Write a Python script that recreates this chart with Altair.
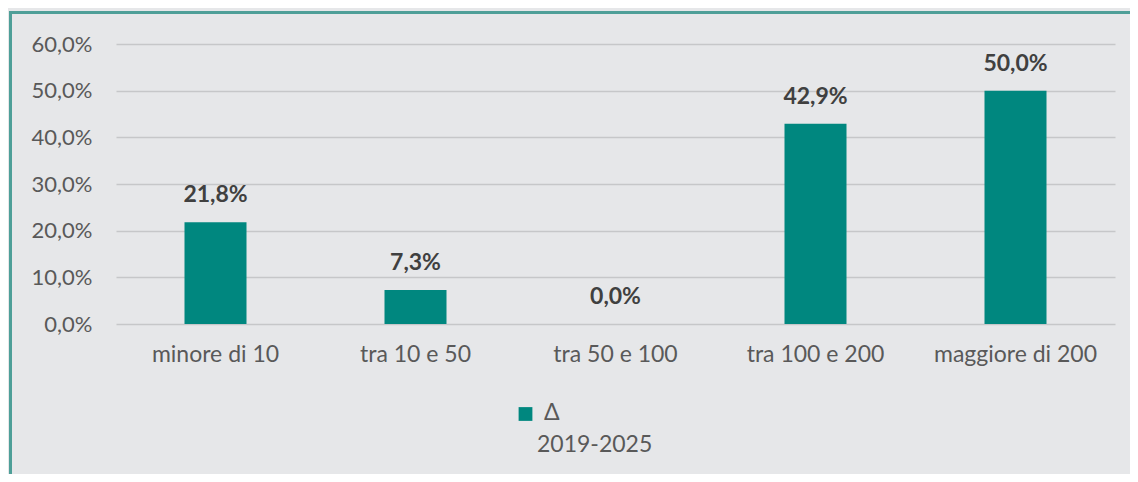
import altair as alt
import pandas as pd

categories = ["minore di 10", "tra 10 e 50", "tra 50 e 100", "tra 100 e 200", "maggiore di 200"]
values = [0.218, 0.073, 0.0, 0.429, 0.50]
series_name = ["Δ", "2019-2025"]

BG = "#e6e7e9"
TEAL = "#00877f"
FONT = "Lato"

df = pd.DataFrame({"cat": categories, "value": values})
leg = pd.DataFrame({"line1": [series_name[0]], "line2": [series_name[1]]})

x = alt.X("cat:N", sort=categories, title=None,
          scale=alt.Scale(paddingInner=0.69, paddingOuter=0.3425),
          axis=alt.Axis(labelAngle=0, labelFontSize=23, labelColor="#595959", labelFont=FONT,
                        labelPadding=19, ticks=False, domain=False, grid=False))
y = alt.Y("value:Q", title=None,
          scale=alt.Scale(domain=[0, 0.6], nice=False),
          axis=alt.Axis(values=[0, 0.1, 0.2, 0.3, 0.4, 0.5, 0.6],
                        labelExpr="replace(format(datum.value, '.1%'), '.', ',')",
                        labelFontSize=22, labelColor="#595959", labelFont=FONT,
                        labelPadding=24, ticks=False, domain=False,
                        grid=True, gridColor="#c6c7c9", gridWidth=1.5))

base = alt.Chart(df)
bars = base.mark_bar(color=TEAL).encode(x=x, y=y)
labels = base.transform_calculate(
    lbl="replace(format(datum.value, '.1%'), '.', ',')"
).mark_text(fontWeight="bold", fontSize=23, font=FONT, color="#404040",
            baseline="middle", dy=-27).encode(
    x=alt.X("cat:N", sort=categories), y="value:Q", text="lbl:N")

legbase = alt.Chart(leg)
swatch = legbase.mark_point(shape="square", filled=True, size=190, color=TEAL, opacity=1).encode(
    x=alt.value(409.5), y=alt.value(370))
l1 = legbase.mark_text(align="left", baseline="middle", fontSize=23, font=FONT, color="#595959").encode(
    x=alt.value(428), y=alt.value(369), text="line1:N")
l2 = legbase.mark_text(align="left", baseline="middle", fontSize=23, font=FONT, color="#595959").encode(
    x=alt.value(421), y=alt.value(401), text="line2:N")
frame = legbase.mark_rect(fill=None, stroke="#4e9f98", strokeWidth=3).encode(
    x=alt.value(-105.5), x2=alt.value(1040), y=alt.value(-31.5), y2=alt.value(520))

chart = alt.layer(bars, labels, swatch, l1, l2, frame).properties(
    width=999, height=280,
    autosize=alt.AutoSizeParams(type="none"),
    padding={"left": 108, "top": 36, "right": 15, "bottom": 150},
    background=BG,
).configure_view(stroke=None)

chart.save("out.html", embed_options={"renderer": "svg", "actions": False})
